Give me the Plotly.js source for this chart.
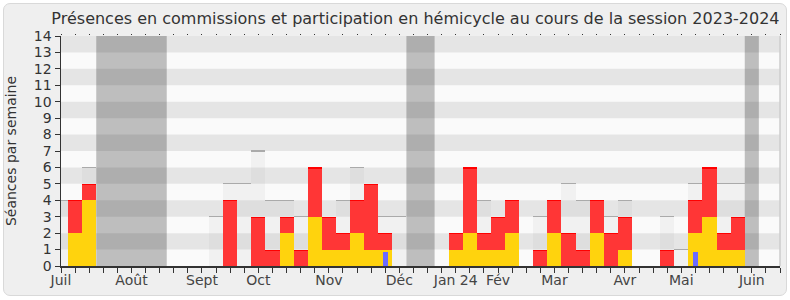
<!DOCTYPE html>
<html>
<head>
<meta charset="utf-8">
<script src="https://cdn.plot.ly/plotly-3.0.1.min.js"></script>
<style>
  html, body { margin:0; padding:0; background:#ffffff; }
  #frame { position:absolute; left:3px; top:3px; width:782px; height:291px; border:1px solid #d9d9d9; border-radius:7px; background:#efefef; }
  #chart { position:absolute; left:0; top:0; width:790px; height:300px; }
</style>
</head>
<body>
<div id="frame"></div>
<div id="chart"></div>
<script>
// Week index (0 = first week of July 2023)
const weeks = [0,1,2,3,4,5,6,7,8,9,10,11,12,13,14,15,16,17,18,19,20,21,22,23,24,25,26,27,28,29,30,31,32,33,34,35,36,37,38,39,40,41,42,43,44,45,46,47,48,49,50];
// Participation en hémicycle (yellow)
const hemicycle = [0,2,4,0,0,0,0,0,0,0, 0,0,0,0,0,0,2,0,3,1, 1,2,1,1,0,0,0,0,1,2, 1,1,2,0,0,2,0,0,2,0, 1,0,0,0,0,2,3,1,1,0, 0];
// Présences en commission (red, stacked above yellow)
const commission = [0,2,1,0,0,0,0,0,0,0, 0,0,4,0,3,1,1,1,3,2, 1,2,4,1,0,0,0,0,1,4, 1,2,2,0,1,2,2,1,2,2, 2,0,0,1,0,2,3,1,2,0, 0];
// Médiane des députés (grey bars), null where hidden
const mediane = [4,null,6,null,null,null,null,null,null,null, null,3,5,5,7,4,4,3,null,null, 4,6,null,3,3,null,null,null,null,null, 4,null,null,null,3,null,5,4,null,3, 4,null,null,3,1,5,null,5,5,null, null];
// Questions orales (blue)
const questionWeeks = [23, 45];
const questionValues = [0.85, 0.85];
// Vacances parlementaires (first and last week of each period)
const vacationStart = [3, 25, 49];
const vacationEnd = [7, 26, 49];
// Month labels
const monthLabels = ['Juil','Août','Sept','Oct','Nov','Déc','Jan 24','Fév','Mar','Avr','Mai','Juin'];
const monthWeeks = [0,5,10,14,19,24,28,31,35,40,44,49];
const tickWeeks = weeks.concat([51]);

const FONT = 'DejaVu Sans, sans-serif';
const total = hemicycle.map((h,i) => h + commission[i]);
const capH = 0.07;

const traces = [
  { type:'bar', x:weeks, y:mediane, width:1, marker:{color:'rgba(160,160,160,0.09)'}, hoverinfo:'skip' },
  { type:'bar', x:weeks, y:mediane.map(m => m===null ? null : capH), base:mediane.map(m => m===null ? null : m - capH/2),
    width:1, marker:{color:'#aaaaaa'}, hoverinfo:'skip' },
  { type:'bar', x:weeks, y:hemicycle, width:1, marker:{color:'#ffd30d'}, name:'Hémicycle' },
  { type:'bar', x:weeks, y:commission, base:hemicycle, width:1, marker:{color:'#ff3636'}, name:'Commission' },
  { type:'bar', x:weeks, y:commission.map(c => c>0 ? capH : null), base:total.map((t,i) => commission[i]>0 ? t - capH : null),
    width:1, marker:{color:'#ff0000'}, hoverinfo:'skip' },
  { type:'bar', x:questionWeeks, y:questionValues, width:0.33, marker:{color:'#6b6bff'}, name:'Questions' },
  { type:'scatter', x:[0], y:[0], xaxis:'x2', mode:'markers', marker:{opacity:0}, hoverinfo:'skip' }
];

const shapes = [];
vacationStart.forEach((s,i) => shapes.push({type:'rect', xref:'x', yref:'y', x0:s-0.5, x1:vacationEnd[i]+0.5, y0:0, y1:14,
  fillcolor:'#bebebe', line:{width:0}, layer:'below'}));
for (let k = 1; k < 14; k += 2) {
  shapes.push({type:'rect', xref:'x', yref:'y', x0:0, x1:51, y0:k, y1:k+1,
    fillcolor:'rgba(0,0,0,0.082)', line:{width:0}, layer:'below'});
}
shapes.push({type:'line', xref:'paper', yref:'paper', x0:1, x1:1, y0:0, y1:1, line:{color:'#cccccc', width:1.5}});

const layout = {
  width:790, height:300,
  margin:{l:61, r:10, t:36, b:34},
  paper_bgcolor:'rgba(0,0,0,0)',
  plot_bgcolor:'#fafafa',
  barmode:'overlay',
  bargap:0,
  showlegend:false,
  font:{family:FONT, color:'#333333'},
  title:{text:'Présences en commissions et participation en hémicycle au cours de la session 2023-2024',
    font:{family:FONT, size:16, color:'#333333'}, x:0.493, xref:'paper', xanchor:'center', y:0.94, yanchor:'middle'},
  xaxis:{range:[0,51], tickmode:'array', tickvals:tickWeeks,
    ticktext:tickWeeks.map(w => { const j = monthWeeks.indexOf(w); return j>=0 ? monthLabels[j] : ''; }),
    ticks:'outside', ticklen:5, tickwidth:1, tickcolor:'#333333', ticklabelstandoff:-4,
    showline:true, linecolor:'#333333', linewidth:1.5, showgrid:false, zeroline:false,
    tickfont:{family:FONT, size:14, color:'#444444'}, fixedrange:true},
  xaxis2:{overlaying:'x', side:'top', range:[0,51], tickmode:'array', tickvals:tickWeeks, ticktext:tickWeeks.map(()=>''),
    ticks:'outside', ticklen:1, tickwidth:1, tickcolor:'#333333', showline:false, showgrid:false, zeroline:false, showticklabels:false},
  yaxis:{range:[0,14], dtick:1, tick0:0, ticks:'outside', ticklen:5, tickwidth:1, tickcolor:'#333333',
    showline:true, linecolor:'#333333', linewidth:1.5, showgrid:false, zeroline:false,
    tickfont:{family:FONT, size:14, color:'#333333'},
    title:{text:'Séances par semaine', font:{family:FONT, size:14, color:'#333333'}, standoff:14}},
  shapes:shapes
};

Plotly.newPlot('chart', traces, layout, {staticPlot:true, displayModeBar:false});
</script>
</body>
</html>
